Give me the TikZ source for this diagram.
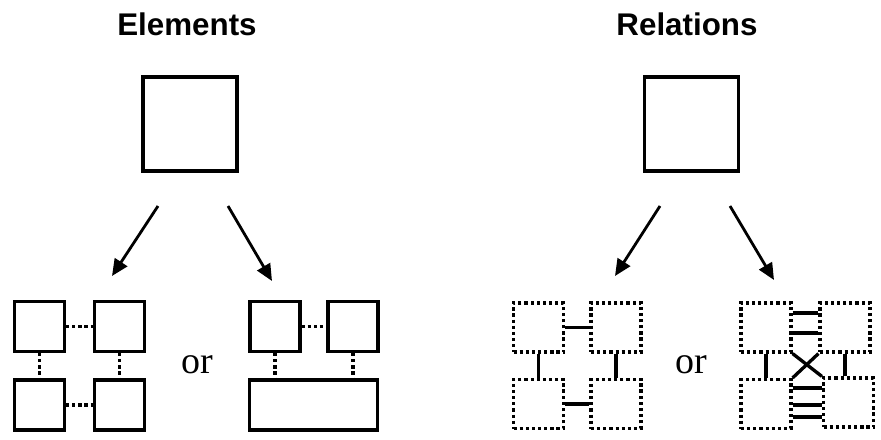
\documentclass[tikz,border=0pt]{standalone}
\usepackage{fontspec}
\setmainfont{Liberation Serif}
\newfontfamily\headfont{Liberation Sans}
\usetikzlibrary{arrows.meta,calc}
\begin{document}
\begin{tikzpicture}[x=0.75pt,y=-0.75pt,
  head/.style={font=\headfont\bfseries\fontsize{23.5}{27}\selectfont,inner sep=0pt},
  ortext/.style={font=\fontsize{28.5}{32}\selectfont,inner sep=0pt},
  sqbig/.style={draw,line width=2.6pt,inner sep=0pt,minimum size=70.2pt},
  sqsmall/.style={draw,line width=2.6pt,inner sep=0pt,minimum size=37.2pt},
  widebox/.style={draw,line width=2.6pt,inner sep=0pt,minimum width=95.7pt,minimum height=37.2pt},
  dotbox/.style={draw,line width=2.4pt,dash pattern=on 2.4pt off 2.2pt,inner sep=0pt,minimum width=37.5pt,minimum height=36.75pt},
  dotline/.style={line width=2.4pt,dash pattern=on 2.4pt off 2.2pt},
  rel/.style={line width=2.5pt},
  arr/.style={line width=2.1pt,-{Triangle[length=12.5pt,width=11pt]}}]
\useasboundingbox (0,0) rectangle (881,439);
% titles
\node[head] (t1) at (187,24) {Elements};
\node[head] (t2) at (687,24) {Relations};
% top boxes
\node[sqbig] (E) at (190,124) {};
\node[sqbig] (R) at (691.5,124) {};
% arrows
\coordinate (e1s) at (158,206); \coordinate (e1t) at (112,276);
\coordinate (e2s) at (228,206); \coordinate (e2t) at (272,281);
\coordinate (r1s) at (660,206); \coordinate (r1t) at (615,276);
\coordinate (r2s) at (730,206); \coordinate (r2t) at (774,280);
\draw[arr] (e1s) -- (e1t);
\draw[arr] (e2s) -- (e2t);
\draw[arr] (r1s) -- (r1t);
\draw[arr] (r2s) -- (r2t);
% Elements: four boxes
\node[sqsmall] (a1) at (39.5,326.5) {};
\node[sqsmall] (a2) at (119.5,326.5) {};
\node[sqsmall] (a3) at (39.5,405) {};
\node[sqsmall] (a4) at (119.5,405) {};
\draw[dotline] (a1) -- (a2);
\draw[dotline] (a3) -- (a4);
\draw[dotline] (a1) -- (a3);
\draw[dotline] (a2) -- (a4);
\node[ortext] (or1) at (197,365) {or};
% Elements: two boxes + wide box
\node[sqsmall] (b1) at (275,326.5) {};
\node[sqsmall] (b2) at (353,326.5) {};
\node[widebox] (bw) at (313.5,405) {};
\draw[dotline] (b1) -- (b2);
\draw[dotline] (b1.south) -- (b1.south |- bw.north);
\draw[dotline] (b2.south) -- (b2.south |- bw.north);
% Relations: four dotted boxes
\node[dotbox] (c1) at (538.5,327.5) {};
\node[dotbox] (c2) at (616,327.5) {};
\node[dotbox] (c3) at (538.5,404) {};
\node[dotbox] (c4) at (616,404) {};
\draw[rel] (c1) -- (c2);
\draw[rel] (c3) -- (c4);
\draw[rel] (c1) -- (c3);
\draw[rel] (c2) -- (c4);
\node[ortext] (or2) at (691,365) {or};
% Relations: crossed group
\node[dotbox] (d1) at (766,327.5) {};
\node[dotbox] (d2) at (845,327.5) {};
\node[dotbox] (d3) at (766,404) {};
\node[dotbox] (d4) at (848.5,402.5) {};
\draw[rel] ($(d1.east)+(0,-14.5)$) coordinate (h1) -- (h1 -| d2.west);
\draw[rel] ($(d1.east)+(0,5.5)$) coordinate (h2) -- (h2 -| d2.west);
\draw[rel] ($(d3.east)+(0,-16)$) coordinate (h3) -- (h3 -| d4.west);
\draw[rel] ($(d3.east)+(0,1)$) coordinate (h4) -- (h4 -| d4.west);
\draw[rel] ($(d3.east)+(0,13)$) coordinate (h5) -- (h5 -| d4.west);
\draw[rel] (d1.south east) -- (d4.north west);
\draw[rel] (d2.south west) -- (d3.north east);
\draw[rel] (d1.south) -- (d3.north);
\draw[rel] (d2.south) -- (d2.south |- d4.north);
\end{tikzpicture}
\end{document}
